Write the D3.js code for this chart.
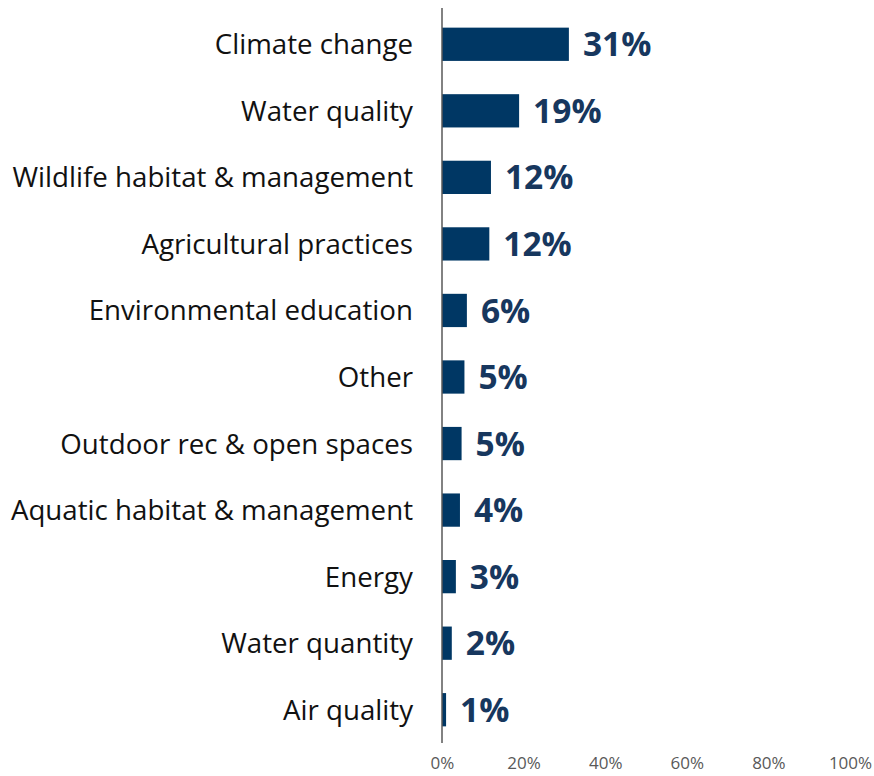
<!DOCTYPE html>
<html>
<head>
<meta charset="utf-8">
<script src="https://cdn.jsdelivr.net/npm/d3@7"></script>
<style>
	body { margin: 0; background: #fff; }
	.cat { font-family: "Open Sans", sans-serif; font-size: 27.7px; fill: #111; }
	.val { font-family: "Open Sans", sans-serif; font-weight: bold; font-size: 33.5px; fill: #17375e; }
	.tick text { font-family: "Open Sans", sans-serif; font-size: 17px; fill: #595959; }
</style>
</head>
<body>
<div id="chart"></div>
<script>
	// categories, top to bottom
	var categories = ['Climate change', 'Water quality', 'Wildlife habitat & management',
		'Agricultural practices', 'Environmental education', 'Other',
		'Outdoor rec & open spaces', 'Aquatic habitat & management', 'Energy',
		'Water quantity', 'Air quality'];
	// bar lengths (percent) and the printed labels
	var values = [31.1, 18.9, 12.0, 11.6, 6.1, 5.5, 4.8, 4.4, 3.4, 2.4, 1.0];
	var labels = ['31%', '19%', '12%', '12%', '6%', '5%', '5%', '4%', '3%', '2%', '1%'];
	var ticks = [0, 20, 40, 60, 80, 100];

	var width = 874,
		height = 776;

	var svg = d3.select('#chart').append('svg')
		.attr('width', width)
		.attr('height', height);

	var x = d3.scaleLinear().domain([0, 100]).range([442, 850]);
	var y = d3.scaleBand().domain(categories).range([11, 743]).paddingInner(0.5).paddingOuter(0.25);

	var data = categories.map(function (c, i) {
		return {cat: c, value: values[i], label: labels[i]};
	});

	// bars
	svg.selectAll('rect.bar')
		.data(data)
		.enter().append('rect')
		.attr('class', 'bar')
		.attr('x', x(0))
		.attr('y', function (d) { return y(d.cat); })
		.attr('width', function (d) { return x(d.value) - x(0); })
		.attr('height', y.bandwidth())
		.attr('fill', '#003764');

	// value labels
	svg.selectAll('text.val')
		.data(data)
		.enter().append('text')
		.attr('class', 'val')
		.attr('x', function (d) { return x(d.value) + 14; })
		.attr('y', function (d) { return y(d.cat) + y.bandwidth() / 2; })
		.attr('dy', '0.36em')
		.text(function (d) { return d.label; });

	// category labels
	svg.selectAll('text.cat')
		.data(data)
		.enter().append('text')
		.attr('class', 'cat')
		.attr('x', 413)
		.attr('y', function (d) { return y(d.cat) + y.bandwidth() / 2; })
		.attr('dy', '0.36em')
		.attr('text-anchor', 'end')
		.text(function (d) { return d.cat; });

	// vertical axis line
	svg.append('line')
		.attr('x1', x(0)).attr('x2', x(0))
		.attr('y1', 8).attr('y2', 743)
		.attr('stroke', '#595959')
		.attr('stroke-width', 1.5);

	// bottom axis, labels only
	var xAxis = d3.axisBottom(x)
		.tickValues(ticks)
		.tickSize(0)
		.tickPadding(0)
		.tickFormat(function (d) { return d + '%'; });

	svg.append('g')
		.attr('transform', 'translate(0,757)')
		.call(xAxis)
		.call(function (g) { g.select('.domain').remove(); });
</script>
</body>
</html>
